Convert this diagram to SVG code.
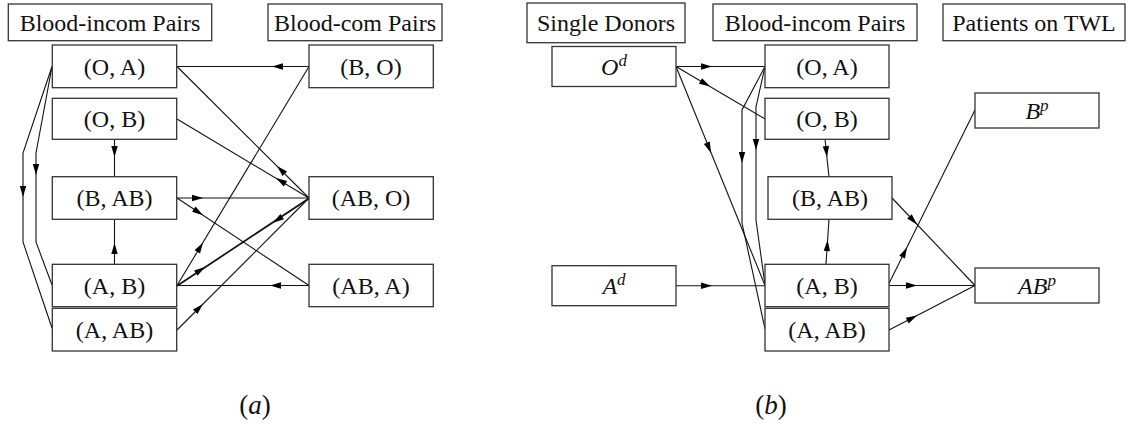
<svg xmlns="http://www.w3.org/2000/svg" xmlns:xlink="http://www.w3.org/1999/xlink" width="1137" height="439" viewBox="0 0 1137 439">
<style>
.box{fill:#fff;stroke:#333;stroke-width:1.3}
text{font-family:'Liberation Serif','DejaVu Serif','Times New Roman',serif;fill:#111;text-anchor:middle}
.t{font-size:24px}
.it{font-style:italic}
.e{fill:none;stroke:#111;stroke-width:1.1}
.cap{font-size:27px}
</style>
<defs>
<path id="ah" d="M0,0 L-11,-3.2 L-11,3.2 Z" fill="#000"/>
</defs>
<rect width="1137" height="439" fill="#fff"/>

<g id="connectors">
<g id="a-BO-OA"><path class="e" d="M309,66.5 L177,66.5"/><use xlink:href="#ah" transform="translate(272,66.5) rotate(180)"/></g>
<g id="a-ABO-OA"><path class="e" d="M309,198 L177,66.5"/><use xlink:href="#ah" transform="translate(277,166) rotate(-135.1)"/></g>
<g id="a-ABO-OB"><path class="e" d="M309,198 L177,119"/><use xlink:href="#ah" transform="translate(276,178) rotate(-149.1)"/></g>
<g id="a-AB-BO"><path class="e" d="M177,285.5 L309,66.5"/><use xlink:href="#ah" transform="translate(203,242.4) rotate(-58.9)"/></g>
<g id="a-BAB-ABO"><path class="e" d="M177,198 L309,198"/><use xlink:href="#ah" transform="translate(203,198) rotate(0)"/></g>
<g id="a-BAB-ABA"><path class="e" d="M177,198 L309,285.5"/><use xlink:href="#ah" transform="translate(203,215.2) rotate(33.5)"/></g>
<g id="a-AB-ABO"><path class="e" d="M177,285.5 L309,198"/><use xlink:href="#ah" transform="translate(205,267) rotate(-33.5)"/></g>
<g id="a-ABO-AB"><path class="e" d="M309,198.8 L177,286.3"/><use xlink:href="#ah" transform="translate(273,222.7) rotate(146.5)"/></g>
<g id="a-ABA-AB"><path class="e" d="M309,285.5 L177,285.5"/><use xlink:href="#ah" transform="translate(270,285.5) rotate(180)"/></g>
<g id="a-AAB-ABO"><path class="e" d="M177,330 L309,198"/><use xlink:href="#ah" transform="translate(203,304) rotate(-45)"/></g>
<g id="a-OA-AAB"><path class="e" d="M52,66.5 L23,153 L23,242 L52,328"/><use xlink:href="#ah" transform="translate(23,197) rotate(90)"/></g>
<g id="a-OA-AB"><path class="e" d="M52,66.5 L36,153 L36,242 L52,285"/><use xlink:href="#ah" transform="translate(36,175) rotate(90)"/></g>
<g id="a-OB-BAB"><path class="e" d="M114.5,139.3 L114.5,176.7"/><use xlink:href="#ah" transform="translate(114.5,157) rotate(90)"/></g>
<g id="a-AB-BAB"><path class="e" d="M114.5,264.3 L114.5,219.3"/><use xlink:href="#ah" transform="translate(114.5,243) rotate(-90)"/></g>
<g id="b-Od-OA"><path class="e" d="M676,66.5 L765,66.5"/><use xlink:href="#ah" transform="translate(712,66.5) rotate(0)"/></g>
<g id="b-Od-OB"><path class="e" d="M676,66.5 L765,119"/><use xlink:href="#ah" transform="translate(710,86.5) rotate(30.5)"/></g>
<g id="b-Od-AB"><path class="e" d="M676,66.5 L765,285.5"/><use xlink:href="#ah" transform="translate(711,153) rotate(67.9)"/></g>
<g id="b-OA-AAB"><path class="e" d="M765,66.5 L742,110 L742,223 L765,329"/><use xlink:href="#ah" transform="translate(742,163) rotate(90)"/></g>
<g id="b-OA-AB"><path class="e" d="M765,66.5 L756,107 L756,220 L765,285"/><use xlink:href="#ah" transform="translate(756,150) rotate(90)"/></g>
<g id="b-Ad-AB"><path class="e" d="M676,285.7 L765,285.7"/><use xlink:href="#ah" transform="translate(712,285.7) rotate(0)"/></g>
<g id="b-OB-BAB"><path class="e" d="M825,139 L829,177"/><use xlink:href="#ah" transform="translate(827,157) rotate(84)"/></g>
<g id="b-AB-BAB"><path class="e" d="M826,264 L829,219"/><use xlink:href="#ah" transform="translate(827.6,240) rotate(-86.2)"/></g>
<g id="b-BAB-ABp"><path class="e" d="M892,198 L975,285.5"/><use xlink:href="#ah" transform="translate(917,224.4) rotate(46.5)"/></g>
<g id="b-AB-Bp"><path class="e" d="M888,285.5 L975,110"/><use xlink:href="#ah" transform="translate(907,247.2) rotate(-63.6)"/></g>
<g id="b-AB-ABp"><path class="e" d="M889,285.5 L975,285.5"/><use xlink:href="#ah" transform="translate(917,285.5) rotate(0)"/></g>
<g id="b-AAB-ABp"><path class="e" d="M889,330 L975,285.5"/><use xlink:href="#ah" transform="translate(917,315.5) rotate(-27.4)"/></g>
</g>

<g id="hdr-a-incom"><rect class="box" x="8.3" y="4" width="203.4" height="36.7"/><text class="t" x="110" y="30.5">Blood-incom Pairs</text></g>
<g id="hdr-a-com"><rect class="box" x="268" y="4" width="174" height="36.7"/><text class="t" x="355" y="30.5">Blood-com Pairs</text></g>
<g id="hdr-b-single"><rect class="box" x="527" y="3" width="158" height="39.7"/><text class="t" x="606" y="31">Single Donors</text></g>
<g id="hdr-b-incom"><rect class="box" x="713" y="4" width="204" height="36.7"/><text class="t" x="815" y="30.5">Blood-incom Pairs</text></g>
<g id="hdr-b-twl"><rect class="box" x="943" y="4" width="182" height="36.7"/><text class="t" x="1034" y="30.5">Patients on TWL</text></g>

<g id="a-OA"><rect class="box" x="52.3" y="45" width="124.4" height="42.7"/><text class="t" x="114.5" y="74.5">(O, A)</text></g>
<g id="a-OB"><rect class="box" x="52.3" y="98.3" width="124.4" height="41"/><text class="t" x="114.5" y="127">(O, B)</text></g>
<g id="a-BAB"><rect class="box" x="52.3" y="176.7" width="124.4" height="42.6"/><text class="t" x="114.5" y="206">(B, AB)</text></g>
<g id="a-AB"><rect class="box" x="52.3" y="264.3" width="124.4" height="42.4"/><text class="t" x="114.5" y="293.5">(A, B)</text></g>
<g id="a-AAB"><rect class="box" x="52.3" y="308.3" width="124.4" height="42.7"/><text class="t" x="114.5" y="337.5">(A, AB)</text></g>
<g id="a-BO"><rect class="box" x="309" y="45" width="124.3" height="42.7"/><text class="t" x="371" y="74.5">(B, O)</text></g>
<g id="a-ABO"><rect class="box" x="309" y="176.7" width="124.3" height="42.6"/><text class="t" x="371" y="206">(AB, O)</text></g>
<g id="a-ABA"><rect class="box" x="309" y="264.3" width="124.3" height="42.4"/><text class="t" x="371" y="293.5">(AB, A)</text></g>

<g id="b-Od"><rect class="box" x="552" y="46.5" width="124" height="40"/><text class="t" x="614" y="74.5"><tspan class="it">O</tspan><tspan class="it" font-size="17" dy="-9">d</tspan></text></g>
<g id="b-Ad"><rect class="box" x="552" y="265.7" width="124" height="40"/><text class="t" x="614" y="293.5"><tspan class="it">A</tspan><tspan class="it" font-size="17" dy="-9">d</tspan></text></g>
<g id="b-OA"><rect class="box" x="765" y="45" width="124" height="42.7"/><text class="t" x="827" y="74.5">(O, A)</text></g>
<g id="b-OB"><rect class="box" x="765" y="98.3" width="124" height="41"/><text class="t" x="827" y="127">(O, B)</text></g>
<g id="b-BAB"><rect class="box" x="768" y="176.7" width="124" height="42.6"/><text class="t" x="830" y="206">(B, AB)</text></g>
<g id="b-AB"><rect class="box" x="765" y="264.3" width="124" height="42.4"/><text class="t" x="827" y="293.5">(A, B)</text></g>
<g id="b-AAB"><rect class="box" x="765" y="308.3" width="124" height="42.7"/><text class="t" x="827" y="337.5">(A, AB)</text></g>
<g id="b-Bp"><rect class="box" x="975" y="93" width="124" height="35"/><text class="t" x="1037" y="118.5"><tspan class="it">B</tspan><tspan class="it" font-size="17" dy="-8">p</tspan></text></g>
<g id="b-ABp"><rect class="box" x="975" y="268" width="124" height="35"/><text class="t" x="1037" y="293.5"><tspan class="it">AB</tspan><tspan class="it" font-size="17" dy="-8">p</tspan></text></g>

<g id="captions">
<text class="cap" x="255" y="414">(<tspan class="it">a</tspan>)</text>
<text class="cap" x="771" y="414">(<tspan class="it">b</tspan>)</text>
</g>
</svg>
